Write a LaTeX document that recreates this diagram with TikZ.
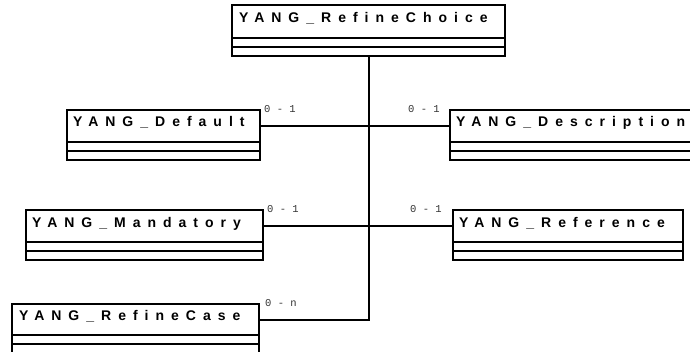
\documentclass[tikz,border=0pt]{standalone}
\usepackage{fontspec}
\setmainfont{Liberation Sans}
\newfontfamily\umlfont[LetterSpace=50]{Liberation Sans}
\newfontfamily\multfont{Liberation Mono}
\begin{document}
\begin{tikzpicture}[x=1pt,y=-1pt,
  namebox/.style={draw=black, fill=white, line width=2pt, inner sep=0pt, outer sep=0pt, anchor=north west, minimum height=32pt},
  compbox/.style={draw=black, fill=white, line width=2pt, inner sep=0pt, outer sep=0pt, anchor=north west, minimum height=9pt},
  nametext/.style={anchor=base west, inner sep=0pt, font=\umlfont\bfseries\fontsize{14}{16}\selectfont},
  mult/.style={anchor=base west, inner sep=0pt, text=black!80, font=\multfont\fontsize{10.5}{12}\selectfont},
  conn/.style={draw=black, line width=2pt}]
\useasboundingbox (0,0) rectangle (690,352);
\clip (0,0) rectangle (690,352);
\fill[white] (0,0) rectangle (690,352);

% top class
\node[namebox, minimum width=273pt, minimum height=33pt] (choice) at (232,5) {};
\node[compbox, minimum width=273pt] (choice-a) at (choice.south west) {};
\node[compbox, minimum width=273pt] (choice-b) at (choice-a.south west) {};
\node[nametext] (choice-t) at (239,23) {YANG\_RefineChoice};

% Default
\node[namebox, minimum width=193pt] (dflt) at (67,110) {};
\node[compbox, minimum width=193pt] (dflt-a) at (dflt.south west) {};
\node[compbox, minimum width=193pt] (dflt-b) at (dflt-a.south west) {};
\node[nametext] (dflt-t) at (73,127) {YANG\_Default};

% Description
\node[namebox, minimum width=260pt] (desc) at (450,110) {};
\node[compbox, minimum width=260pt] (desc-a) at (desc.south west) {};
\node[compbox, minimum width=260pt] (desc-b) at (desc-a.south west) {};
\node[nametext] (desc-t) at (456,127) {YANG\_Description};

% Mandatory
\node[namebox, minimum width=237pt] (mand) at (26,210) {};
\node[compbox, minimum width=237pt] (mand-a) at (mand.south west) {};
\node[compbox, minimum width=237pt] (mand-b) at (mand-a.south west) {};
\node[nametext] (mand-t) at (32,228) {YANG\_Mandatory};

% Reference
\node[namebox, minimum width=230pt] (ref) at (453,210) {};
\node[compbox, minimum width=230pt] (ref-a) at (ref.south west) {};
\node[compbox, minimum width=230pt] (ref-b) at (ref-a.south west) {};
\node[nametext] (ref-t) at (459,228) {YANG\_Reference};

% RefineCase
\node[namebox, minimum width=247pt, minimum height=31pt] (rcase) at (12,304) {};
\node[compbox, minimum width=247pt] (rcase-a) at (rcase.south west) {};
\node[compbox, minimum width=247pt, minimum height=20pt] (rcase-b) at (rcase-a.south west) {};
\node[nametext] (rcase-t) at (19,320) {YANG\_RefineCase};

% connectors
\draw[conn] (choice-b.south) |- (rcase.east);
\draw[conn] (dflt.east) -- (desc.west);
\draw[conn] (mand.east) -- (ref.west);

% multiplicities
\node[mult] (m1) at (264,113) {0 - 1};
\node[mult] (m2) at (408,113) {0 - 1};
\node[mult] (m3) at (267,213) {0 - 1};
\node[mult] (m4) at (410,213) {0 - 1};
\node[mult] (m5) at (265,307) {0 - n};
\end{tikzpicture}
\end{document}
